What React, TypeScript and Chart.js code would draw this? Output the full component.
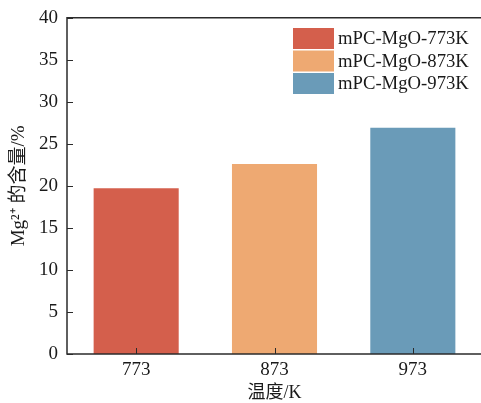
import React, { useEffect, useRef } from "react";
import { Chart, registerables } from "chart.js";

Chart.register(...registerables);

const categories = ["773", "873", "973"];
const values = [19.7, 22.6, 26.9];
const seriesNames = ["mPC-MgO-773K", "mPC-MgO-873K", "mPC-MgO-973K"];
const barColors = ["#D45F4C", "#EEA972", "#6A9BB8"];
const yTicks = [0, 5, 10, 15, 20, 25, 30, 35, 40];

const SERIF = "'Liberation Serif', 'Times New Roman', 'Noto Sans CJK SC', serif";
const AXIS = "#2b2b2b";
const FS = 19;

const framePlugin = {
  id: "frame",
  afterDraw(chart: any) {
    const { ctx, chartArea } = chart;
    const x = chart.scales.x;
    const y = chart.scales.y;
    ctx.save();
    ctx.strokeStyle = AXIS;
    ctx.lineWidth = 1.5;
    ctx.beginPath();
    ctx.moveTo(chartArea.right + 2, chartArea.top);
    ctx.lineTo(chartArea.left, chartArea.top);
    ctx.lineTo(chartArea.left, chartArea.bottom);
    ctx.lineTo(chartArea.right + 2, chartArea.bottom);
    ctx.stroke();
    ctx.lineWidth = 1;
    ctx.beginPath();
    yTicks.forEach((v) => {
      const py = Math.round(y.getPixelForValue(v)) + 0.5;
      ctx.moveTo(chartArea.left, py);
      ctx.lineTo(chartArea.left + 6, py);
    });
    categories.forEach((_, i) => {
      const px = Math.round(x.getPixelForValue(i)) + 0.5;
      ctx.moveTo(px, chartArea.bottom);
      ctx.lineTo(px, chartArea.bottom - 6);
    });
    ctx.stroke();

    // legend
    const boxW = 41;
    const boxH = 21;
    const lx = 293;
    const ly = 28;
    ctx.font = "18.7px " + SERIF;
    ctx.textBaseline = "middle";
    ctx.textAlign = "left";
    seriesNames.forEach((name, i) => {
      const top = ly + i * 22.5;
      ctx.fillStyle = barColors[i];
      ctx.fillRect(lx, top, boxW, boxH);
      ctx.fillStyle = "#1a1a1a";
      ctx.fillText(name, lx + boxW + 4, top + boxH / 2 + 1);
    });
    ctx.restore();
  },
};

export default function App() {
  const ref = useRef<HTMLCanvasElement | null>(null);
  useEffect(() => {
    if (!ref.current) return;
    const chart = new Chart(ref.current, {
      type: "bar",
      data: {
        labels: categories,
        datasets: [
          {
            label: "Mg",
            data: values,
            backgroundColor: barColors,
            borderWidth: 0,
            barPercentage: 0.615,
            categoryPercentage: 1,
          },
        ],
      },
      options: {
        responsive: false,
        animation: false,
        devicePixelRatio: 1,
        layout: { padding: { top: 17.7, right: 0, left: 0, bottom: 0 } },
        plugins: { legend: { display: false }, tooltip: { enabled: false } },
        scales: {
          x: {
            grid: { display: false, drawTicks: false },
            border: { display: false },
            ticks: {
              color: "#1a1a1a",
              padding: 5,
              font: { family: SERIF, size: FS },
            },
            title: {
              display: true,
              text: "温度/K",
              color: "#1a1a1a",
              padding: { top: 0, bottom: -1.5 },
              font: { family: SERIF, size: 18 },
            },
            afterFit(scale: any) {
              scale.height = 49;
            },
          },
          y: {
            min: 0,
            max: 40,
            grid: { display: false, drawTicks: true, tickLength: 9 },
            border: { display: false },
            ticks: {
              stepSize: 5,
              color: "#1a1a1a",
              padding: 0,
              font: { family: SERIF, size: FS },
            },
            title: {
              display: true,
              text: "Mg²⁺ 的含量/%",
              color: "#1a1a1a",
              padding: { top: 8, bottom: 0 },
              font: { family: SERIF, size: 19 },
            },
            afterFit(scale: any) {
              scale.width = 67;
            },
          },
        },
      },
      plugins: [framePlugin],
    });
    return () => chart.destroy();
  }, []);
  return (
    <div
      style={{
        position: "fixed",
        left: 0,
        top: 0,
        width: 481,
        height: 403,
        overflow: "hidden",
        background: "#fff",
      }}
    >
      <canvas ref={ref} width={482} height={403} style={{ width: 482, height: 403 }} />
    </div>
  );
}
